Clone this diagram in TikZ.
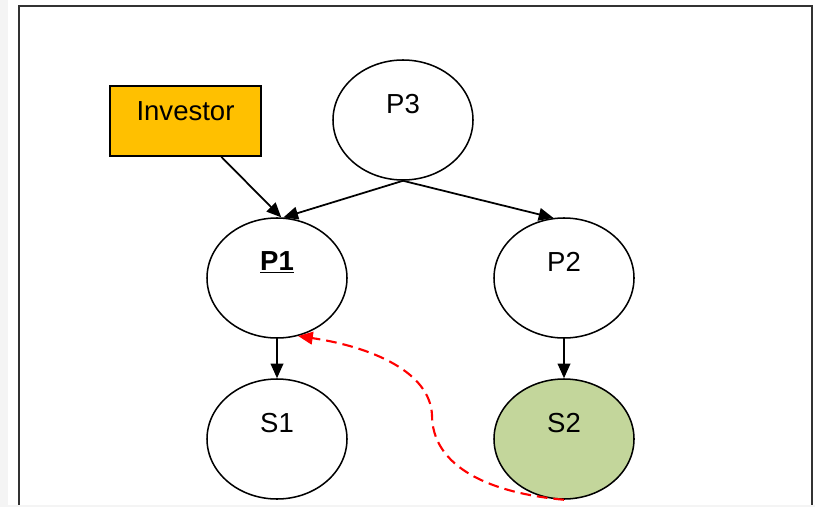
\documentclass[tikz,border=0pt]{standalone}
\usepackage{fontspec}
\setmainfont{Liberation Sans}
\usetikzlibrary{arrows.meta, shapes}
\definecolor{mygray1}{RGB}{244, 244, 244}
\definecolor{mygray2}{RGB}{50, 50, 50}
\definecolor{myorange1}{RGB}{255, 192, 0}
\definecolor{mygreen1}{RGB}{195, 214, 155}
\tikzset{>={Triangle[length=0.44cm, width=0.38cm]}}
\tikzset{
  blob/.style = {draw, ellipse, line width = 1.3pt, minimum width = 4.2cm,
                 minimum height = 3.6cm, inner sep = 0pt,
                 label = {[yshift = 0.47cm, font = \fontsize{23.5}{28}\selectfont]center:#1}},
  link/.style = {->, line width = 1.5pt}
}

\begin{document}
\begin{tikzpicture}[x = 0.03cm, y = -0.03cm]

\useasboundingbox (0,0) rectangle (815,507);
\fill[white] (0,0) rectangle (815,507);
\fill[mygray1] (0,0) rectangle (8,507);
\draw[line width = 2.2pt, color = mygray2] (19,6) rectangle (812,530);
\draw[line width = 1pt, color = mygray1] (0,506) -- (815,506);

% nodes
\node[draw, line width = 1.3pt, fill = myorange1, minimum width = 4.53cm, minimum height = 2.1cm,
      label = {[yshift = 0.3cm, font = \fontsize{23.5}{28}\selectfont]center:Investor}] (inv) at (185.5,121) {};
\node[blob = P3] (p3) at (403,120) {};
\node[blob = {\textbf{\underline{P1}}}] (p1) at (277,278) {};
\node[blob = P2] (p2) at (564,278) {};
\node[blob = S1] (s1) at (277,439) {};
\node[blob = S2, fill = mygreen1] (s2) at (564,439) {};

% arrows
\draw[link] (inv.-45) -- (p1.86);
\draw[link] (p3.south) -- (p1.84);
\draw[link] (p3.south) -- (p2.100);
\draw[link] (p1.south) -- (s1.north);
\draw[link] (p2.south) -- (s2.north);
\draw[->, red, line width = 1.8pt, dash pattern = on 0.32cm off 0.18cm]
  (s2.south) .. controls (480,492) and (432,462) .. (432,415)
             .. controls (430,372) and (372,347) .. (p1.-70);

\end{tikzpicture}
\end{document}
